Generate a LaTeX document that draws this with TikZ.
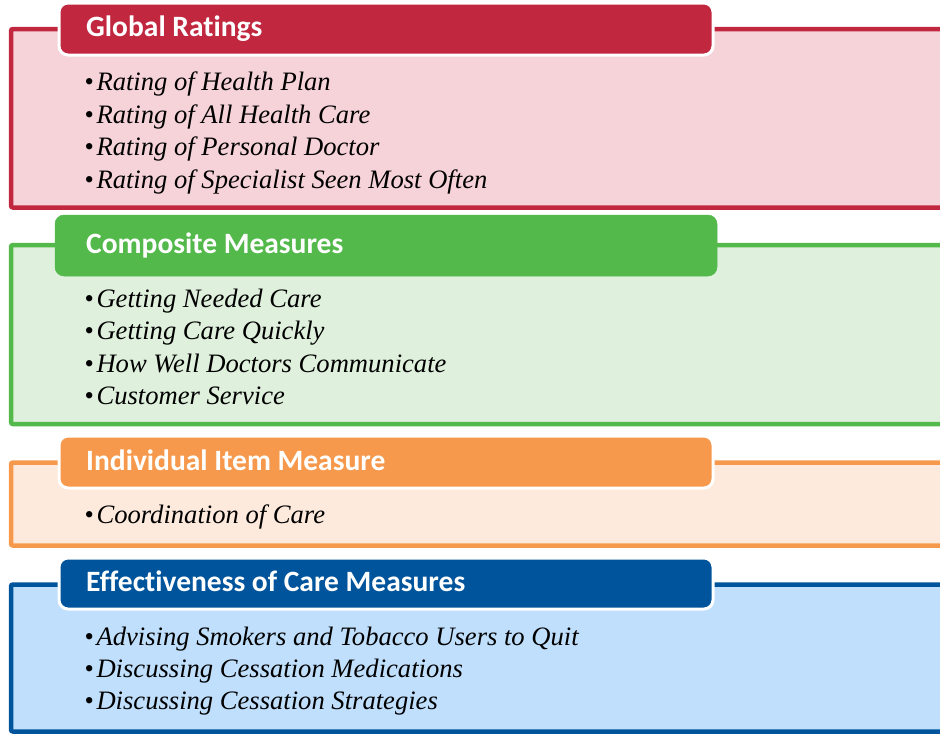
\documentclass[tikz,border=0pt]{standalone}
\usepackage{fontspec}
\setmainfont{Liberation Serif}
\newfontfamily\headfont[Ligatures=NoCommon]{Carlito}
\definecolor{cred}{HTML}{C1273F}
\definecolor{cpink}{HTML}{F6D3D9}
\definecolor{cgreen}{HTML}{53B94B}
\definecolor{cgreenl}{HTML}{DFF0DD}
\definecolor{corange}{HTML}{F7994C}
\definecolor{corangel}{HTML}{FDEADC}
\definecolor{cblue}{HTML}{00549B}
\definecolor{cbluel}{HTML}{BFDFFC}
\tikzset{
  panel/.style={line width=4.5pt, rounded corners=2pt},
  headbox/.style={draw=white, line width=3pt, rounded corners=9pt},
  headtxt/.style={anchor=base west, inner sep=0pt, text=white, font=\headfont\bfseries\fontsize{29.5}{31}\selectfont},
  item/.style={anchor=base west, inner sep=0pt, font=\fontsize{26.6}{28}\selectfont},
}
\newcommand{\bitem}[1]{\textup{•}\kern2.5pt\textit{#1}}
\begin{document}
\begin{tikzpicture}[x=1pt,y=-1pt]
\useasboundingbox (0,0) rectangle (940,734);
% Red section
\draw[panel, draw=cred, fill=cpink] (960,29) -- (11,29) -- (11,207.5) -- (960,207.5);
\draw[headbox, fill=cred] (59,3) rectangle (713,55);
\node[headtxt] (h1) at (86,36.5) {Global Ratings};
\node[item] (a1) at (84.5,90.5) {\bitem{Rating of Health Plan}};
\node[item] (a2) at (84.5,123) {\bitem{Rating of All Health Care}};
\node[item] (a3) at (84.5,155.5) {\bitem{Rating of Personal Doctor}};
\node[item] (a4) at (84.5,188) {\bitem{Rating of Specialist Seen Most Often}};
% Green section
\draw[panel, draw=cgreen, fill=cgreenl] (960,245) -- (11,245) -- (11,424) -- (960,424);
\draw[draw=cgreen, line width=0.5pt, fill=cgreen, rounded corners=9pt] (55,215) rectangle (717,276);
\node[headtxt] (h2) at (86,253.5) {Composite Measures};
\node[item] (b1) at (84.5,307) {\bitem{Getting Needed Care}};
\node[item] (b2) at (84.5,339.5) {\bitem{Getting Care Quickly}};
\node[item] (b3) at (84.5,372) {\bitem{How Well Doctors Communicate}};
\node[item] (b4) at (84.5,404.5) {\bitem{Customer Service}};
% Orange section
\draw[panel, draw=corange, fill=corangel] (960,462.5) -- (11,462.5) -- (11,545.5) -- (960,545.5);
\draw[headbox, fill=corange] (59,436) rectangle (713,488);
\node[headtxt] (h3) at (86,470.5) {Individual Item Measure};
\node[item] (c1) at (84.5,523) {\bitem{Coordination of Care}};
% Blue section
\draw[panel, draw=cblue, fill=cbluel] (960,584.5) -- (11,584.5) -- (11,731.5) -- (960,731.5);
\draw[headbox, fill=cblue] (59,558) rectangle (713,609);
\node[headtxt] (h4) at (86,591.5) {Effectiveness of Care Measures};
\node[item] (d1) at (84.5,645) {\bitem{Advising Smokers and Tobacco Users to Quit}};
\node[item] (d2) at (84.5,677) {\bitem{Discussing Cessation Medications}};
\node[item] (d3) at (84.5,709) {\bitem{Discussing Cessation Strategies}};
\end{tikzpicture}
\end{document}
